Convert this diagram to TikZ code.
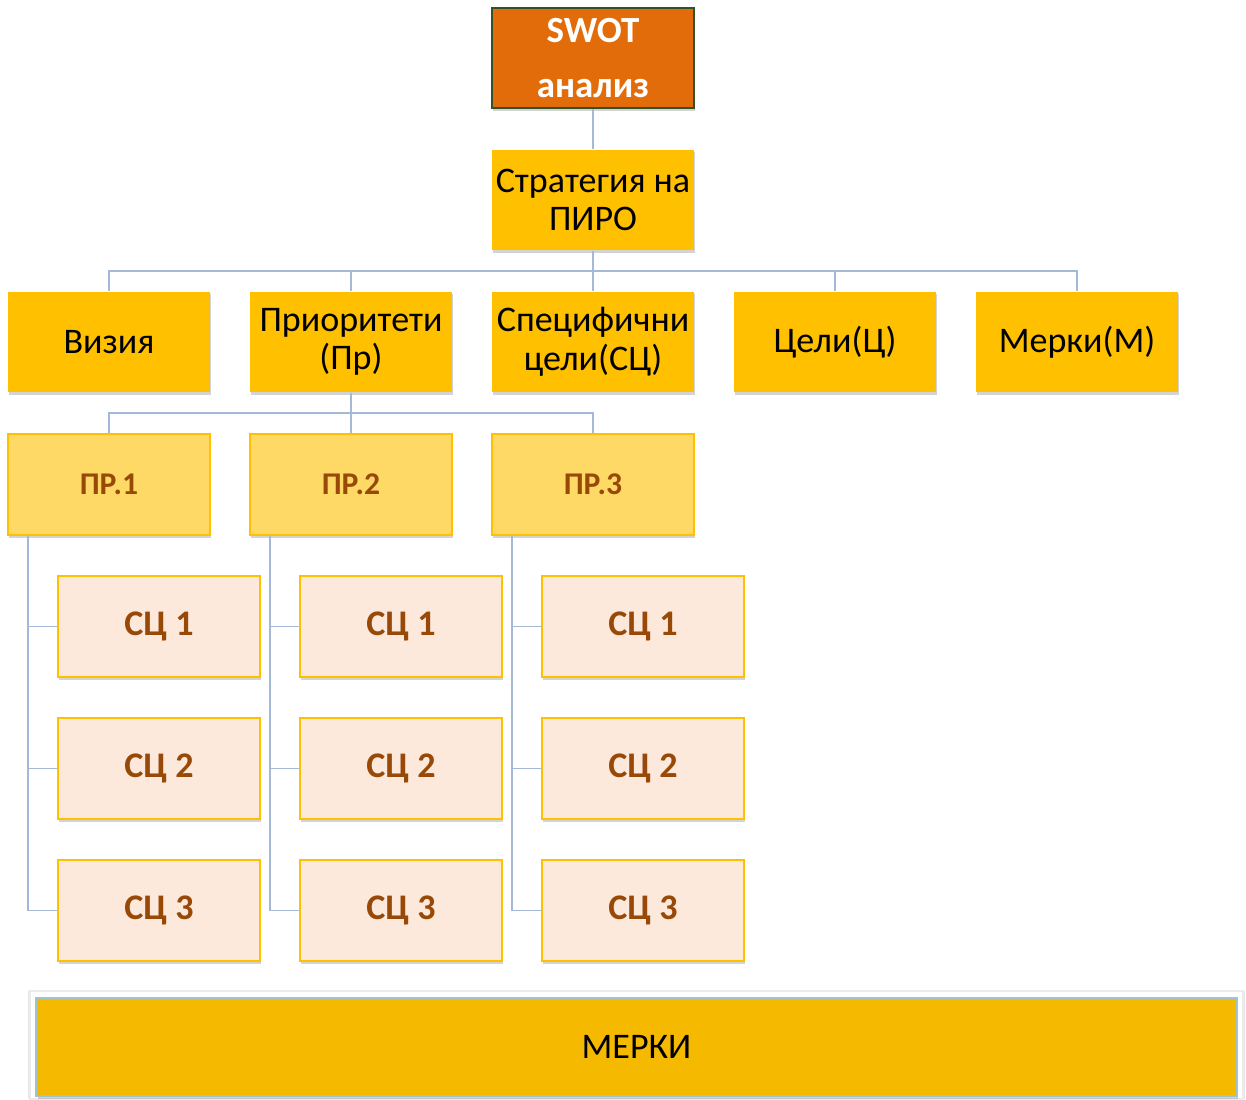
\documentclass[tikz,border=0pt]{standalone}
\usepackage{fontspec}
\setmainfont{Carlito}
\usetikzlibrary{calc,shadows}
\definecolor{swotor}{RGB}{227,108,10}
\definecolor{swotbd}{RGB}{52,82,40}
\definecolor{gold}{RGB}{255,192,0}
\definecolor{prfill}{RGB}{255,217,102}
\definecolor{scfill}{RGB}{252,233,219}
\definecolor{brown}{RGB}{152,72,7}
\definecolor{conn}{RGB}{165,184,214}
\definecolor{merfill}{RGB}{245,186,0}
\definecolor{merbd}{RGB}{160,196,206}
\begin{document}
\begin{tikzpicture}[x=0.02cm,y=-0.02cm,
  shad/.style={drop shadow={opacity=0.35,shadow xshift=0.8pt,shadow yshift=-1.6pt}},
  box/.style={shad,minimum width=4.04cm,minimum height=2.02cm,inner sep=1pt,align=center},
  lvl/.style={box,fill=gold,font=\fontsize{20.5}{22}\selectfont},
  prbox/.style={box,fill=prfill,draw=gold,line width=1.2pt,text=brown,font=\bfseries\fontsize{18}{20}\selectfont},
  scbox/.style={box,fill=scfill,draw=gold,line width=1.2pt,text=brown,font=\bfseries\fontsize{20.5}{22}\selectfont},
  line/.style={draw=conn,line width=1.1pt}]
\useasboundingbox (0,0) rectangle (1246,1099);
% top
\node[box,fill=swotor,draw=swotbd,line width=1.2pt,minimum height=2cm,text=white,
  font=\bfseries\fontsize{21}{31}\selectfont] (swot) at (593,58) {SWOT\\анализ};
\node[lvl] (strat) at (593,200) {Стратегия на\\ПИРО};
% second row
\node[lvl] (viz) at (109,342) {Визия};
\node[lvl] (pri) at (351,342) {Приоритети\\(Пр)};
\node[lvl] (spc) at (593,342) {Специфични\\цели(СЦ)};
\node[lvl] (cel) at (835,342) {Цели(Ц)};
\node[lvl] (mer) at (1077,342) {Мерки(М)};
\draw[line] (swot) -- (strat);
\foreach \n in {viz,pri,spc,cel,mer}
  \draw[line] (strat.south) -- ++(0,20) -| (\n.north);
% priorities and specific goals
\foreach \i/\x in {1/109,2/351,3/593}
{
  \node[prbox] (pr\i) at (\x,484.5) {ПР.\i};
  \draw[line] (pri.south) -- ++(0,20) -| (pr\i.north);
  \foreach \j/\y in {1/626.5,2/768.5,3/910.5}
  {
    \node[scbox] (sc\i\j) at (\x+50,\y) {СЦ \j};
    \draw[line] ($(pr\i.south west)+(21,0)$) |- (sc\i\j.west);
  }
}
% measures
\fill[white,draw=black!8,line width=0.6pt,drop shadow={opacity=0.2,shadow xshift=0pt,shadow yshift=0pt,shadow scale=1.004}] (30,991) rectangle (1243,1099);
\node[shad,fill=merfill,draw=merbd,line width=0.8pt,minimum width=24.02cm,minimum height=1.96cm,
  font=\fontsize{20.5}{22}\selectfont] (merki) at (636.5,1047) {МЕРКИ};
\end{tikzpicture}
\end{document}
